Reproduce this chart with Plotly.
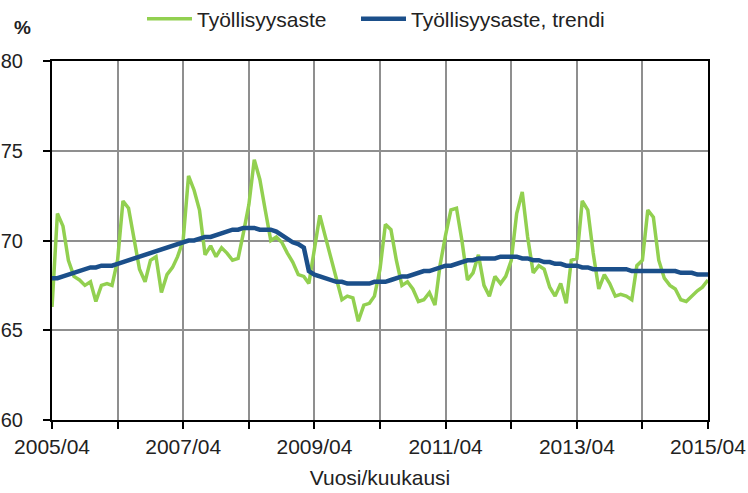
import pandas as pd
import plotly.graph_objects as go

months = pd.date_range("2005-04-01", periods=121, freq="MS")

tyollisyysaste = [
    66.3, 71.5, 70.8, 68.9, 68.0, 67.8, 67.5, 67.7, 66.6, 67.5, 67.6, 67.5,
    68.9, 72.2, 71.8, 70.0, 68.4, 67.7, 68.9, 69.1, 67.1, 68.1, 68.5, 69.1,
    70.0, 73.6, 72.8, 71.7, 69.2, 69.7, 69.1, 69.6, 69.3, 68.9, 69.0, 70.4,
    72.0, 74.5, 73.4, 71.7, 70.0, 70.2, 69.9, 69.3, 68.8, 68.1, 68.0, 67.6,
    69.5, 71.4, 70.2, 69.1, 67.9, 66.7, 66.9, 66.8, 65.5, 66.4, 66.5, 66.9,
    68.4, 70.9, 70.6, 68.9, 67.5, 67.7, 67.3, 66.6, 66.7, 67.1, 66.4, 68.6,
    70.3, 71.7, 71.8, 70.0, 67.8, 68.2, 69.2, 67.5, 66.9, 68.0, 67.6, 68.0,
    68.9, 71.5, 72.7, 70.2, 68.2, 68.6, 68.4, 67.4, 66.9, 67.6, 66.5, 68.9,
    69.0, 72.2, 71.7, 69.3, 67.3, 68.1, 67.6, 66.9, 67.0, 66.9, 66.7, 68.6,
    68.9, 71.7, 71.3, 68.9, 67.9, 67.5, 67.3, 66.7, 66.6, 66.9, 67.2, 67.4, 67.8,
]

trendi = [
    67.9, 67.9, 68.0, 68.1, 68.2, 68.3, 68.4, 68.5, 68.5, 68.6, 68.6, 68.6,
    68.7, 68.8, 68.9, 69.0, 69.1, 69.2, 69.3, 69.4, 69.5, 69.6, 69.7, 69.8,
    69.9, 70.0, 70.0, 70.1, 70.2, 70.2, 70.3, 70.4, 70.5, 70.6, 70.6, 70.7,
    70.7, 70.7, 70.6, 70.6, 70.6, 70.5, 70.3, 70.1, 69.9, 69.8, 69.6, 68.3,
    68.1, 68.0, 67.9, 67.8, 67.7, 67.7, 67.6, 67.6, 67.6, 67.6, 67.6, 67.7,
    67.7, 67.7, 67.8, 67.9, 68.0, 68.0, 68.1, 68.2, 68.3, 68.3, 68.4, 68.5,
    68.6, 68.6, 68.7, 68.8, 68.9, 68.9, 69.0, 69.0, 69.0, 69.0, 69.1, 69.1,
    69.1, 69.1, 69.0, 69.0, 68.9, 68.9, 68.8, 68.8, 68.7, 68.7, 68.6, 68.6,
    68.6, 68.5, 68.5, 68.4, 68.4, 68.4, 68.4, 68.4, 68.4, 68.4, 68.3, 68.3,
    68.3, 68.3, 68.3, 68.3, 68.3, 68.3, 68.3, 68.2, 68.2, 68.2, 68.1, 68.1, 68.1,
]

series_names = ["Työllisyysaste", "Työllisyysaste, trendi"]
y_unit = "%"
x_title = "Vuosi/kuukausi"

FONT = "Liberation Sans, Arial, sans-serif"
GREEN = "#92D050"
BLUE = "#1B4F8A"
GRID = "#8f8f8f"
FS = 21

fig = go.Figure()
fig.add_trace(go.Scatter(x=months, y=tyollisyysaste, mode="lines", name=series_names[0],
                         line=dict(color=GREEN, width=3.5), legend="legend"))
fig.add_trace(go.Scatter(x=months, y=trendi, mode="lines", name=series_names[1],
                         line=dict(color=BLUE, width=4.5), legend="legend2"))

legend_common = dict(orientation="h", xref="container", yref="container",
                     xanchor="left", yanchor="middle", itemwidth=45,
                     font=dict(size=FS), bgcolor="rgba(0,0,0,0)")

fig.update_layout(
    width=748, height=493,
    margin=dict(l=52, r=40, t=61, b=73, autoexpand=False),
    paper_bgcolor="white", plot_bgcolor="white",
    font=dict(family=FONT, size=FS, color="#222222"),
    showlegend=True,
    legend=dict(x=142 / 748, y=1 - 19 / 493, **legend_common),
    legend2=dict(x=356 / 748, y=1 - 19 / 493, **legend_common),
    annotations=[dict(text="<b>" + y_unit + "</b>", xref="paper", yref="paper",
                      x=-30 / 656, y=1 + 34 / 359, xanchor="center", yanchor="middle",
                      showarrow=False, font=dict(size=19, color="#222222"))],
)

fig.update_xaxes(
    type="date", automargin=False,
    range=["2005-03-31 20:00", "2015-04-01 04:00"],
    tick0="2005-04-01", dtick="M24", tickformat="%Y/%m",
    ticks="outside", ticklen=7, tickcolor="black", tickwidth=1.5,
    showgrid=True, gridcolor=GRID, gridwidth=1.5,
    showline=True, linecolor="black", linewidth=2, mirror=True,
    minor=dict(tick0="2005-04-01", dtick="M12", showgrid=True, gridcolor=GRID, gridwidth=1.5,
               ticks="outside", ticklen=7, tickcolor="black", tickwidth=1.5),
    tickfont=dict(size=FS),
    title=dict(text=x_title, font=dict(size=FS), standoff=13),
)
fig.update_yaxes(
    automargin=False,
    range=[60, 80], dtick=5,
    ticks="outside", ticklen=7, tickcolor="black", tickwidth=1.5,
    showgrid=True, gridcolor=GRID, gridwidth=1.5,
    showline=True, linecolor="black", linewidth=2, mirror=True,
    tickfont=dict(size=20), ticklabelstandoff=16,
)

fig.write_html("out.html", config={"displayModeBar": False},
               post_script="document.body.style.margin='0px';")
